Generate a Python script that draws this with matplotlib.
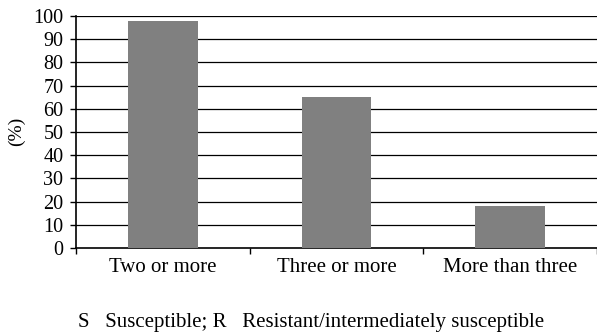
import matplotlib
matplotlib.use("Agg")
import matplotlib.pyplot as plt
import numpy as np

categories = ["Two or more", "Three or more", "More than three"]
values = [98, 65, 18]
yticks = list(range(0, 101, 10))
footer = "S   Susceptible; R   Resistant/intermediately susceptible"

plt.rcParams["font.family"] = ["Liberation Serif", "DejaVu Serif"]

W, H = 597, 335
fig = plt.figure(figsize=(W / 100, H / 100), dpi=100)
ax = fig.add_axes([76 / W, 1 - 248 / H, (W - 76) / W, 232 / H])

x = np.arange(len(categories))
ax.bar(x, values, width=0.40, color="#808080", zorder=3)
ax.set_xlim(-0.5, -0.5 + (W - 76) / 176)
ax.set_ylim(0, 100)
ax.set_yticks(yticks)
ax.tick_params(axis="y", labelsize=14.5, length=4, width=1, pad=5)
for yv in yticks[1:]:
    ax.axhline(yv, color="black", lw=0.9, zorder=1)

ax.set_xticks(x)
ax.set_xticklabels(categories, fontsize=15)
ax.tick_params(axis="x", length=0, pad=7)
ax.set_xticks(np.arange(len(categories) + 1) - 0.5, minor=True)
ax.tick_params(axis="x", which="minor", length=4, width=1, direction="out")

for s in ["top", "right"]:
    ax.spines[s].set_visible(False)
ax.spines["left"].set_linewidth(1.2)
ax.spines["bottom"].set_linewidth(1.2)
ax.set_ylabel("(%)", fontsize=14)
ax.yaxis.set_label_coords(-(76 - 25) / (W - 76), (248 - 131) / 232)

fig.text(78 / W, 1 - 322 / H, footer, fontsize=15, va="center", ha="left")

fig.savefig("out.png", dpi=100)
